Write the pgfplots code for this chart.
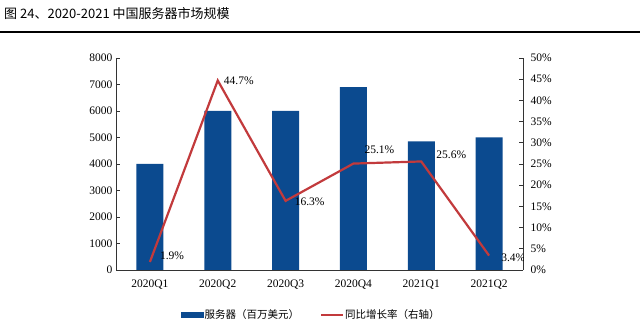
\documentclass[border=0pt]{standalone}
\usepackage{fontspec}
\setmainfont{Liberation Serif}
\newfontfamily\cjk{Noto Sans CJK SC}
\usepackage{pgfplots}
\pgfplotsset{compat=1.18}
\definecolor{barblue}{HTML}{0B4A8F}
\definecolor{linered}{HTML}{C23A3C}
\definecolor{axgray}{HTML}{333333}
\begin{document}
\begin{tikzpicture}[x=1pt,y=1pt]
\useasboundingbox (0,0) rectangle (640,329);
\node[anchor=west, inner sep=0pt, font=\cjk\fontsize{13}{14}\selectfont] at (4,315) {图 24、2020-2021 中国服务器市场规模};
\draw[line width=1.2pt] (0,297) -- (640,297);
\pgfplotsset{every axis/.append style={
  at={(116pt,59pt)}, anchor=south west, scale only axis, width=407pt, height=212pt,
  xmin=-0.5, xmax=5.5, tick align=inside, major tick length=4pt,
  axis line style={axgray, line width=0.8pt}, tick style={axgray, line width=0.6pt},
  ticklabel style={font=\fontsize{11.5}{13}\selectfont},
  /pgf/number format/assume math mode=true}}
\begin{axis}[
  ymin=0, ymax=8000, ytick={0,1000,...,8000},
  scaled y ticks=false, yticklabel style={/pgf/number format/1000 sep={}},
  axis y line*=left, axis x line*=bottom,
  xtick={0,...,5}, xticklabels={2020Q1,2020Q2,2020Q3,2020Q4,2021Q1,2021Q2},
  x tick style={draw=none}, xticklabel style={yshift=-6pt},
]
\addplot[ybar, bar width=27pt, fill=barblue, draw=none] coordinates {
  (0,4000) (1,6000) (2,6000) (3,6900) (4,4850) (5,5000)};
\end{axis}
\begin{axis}[
  ymin=0, ymax=50, ytick={0,5,...,50},
  yticklabel={\pgfmathprintnumber{\tick}\%},
  yticklabel style={xshift=4pt},
  axis y line*=right, axis x line=none,
  legend columns=2,
  legend style={at={(0.479,-0.212)}, anchor=center, draw=none, fill=none,
    font=\cjk\fontsize{10.5}{12}\selectfont, column sep=0pt, inner sep=0pt,
    nodes={inner xsep=1pt},
    /tikz/every even column/.append style={column sep=20pt}},
]
\addlegendimage{legend image code/.code={\fill[barblue] (2pt,-2.5pt) rectangle (24pt,2.5pt);}}
\addlegendentry{服务器（百万美元）}
\addplot[linered, line width=2.2pt, mark=none,
  legend image code/.code={\draw[linered,line width=2pt] (2pt,0pt)--(24pt,0pt);}]
  coordinates {(0,1.9) (1,44.7) (2,16.3) (3,25.1) (4,25.6) (5,3.4)};
\addlegendentry{同比增长率（右轴）}
\begin{scope}[every node/.style={font=\fontsize{11.5}{13}\selectfont, anchor=west, inner sep=0pt}]
\node at ([xshift=10pt,yshift=6pt]axis cs:0,1.9) {1.9\%};
\node at ([xshift=6pt,yshift=0pt]axis cs:1,44.7) {44.7\%};
\node at ([xshift=9pt,yshift=-1pt]axis cs:2,16.3) {16.3\%};
\node at ([xshift=11pt,yshift=14pt]axis cs:3,25.1) {25.1\%};
\node at ([xshift=15pt,yshift=7pt]axis cs:4,25.6) {25.6\%};
\node at ([xshift=12pt,yshift=-2pt]axis cs:5,3.4) {3.4\%};
\end{scope}
\end{axis}
\end{tikzpicture}
\end{document}
